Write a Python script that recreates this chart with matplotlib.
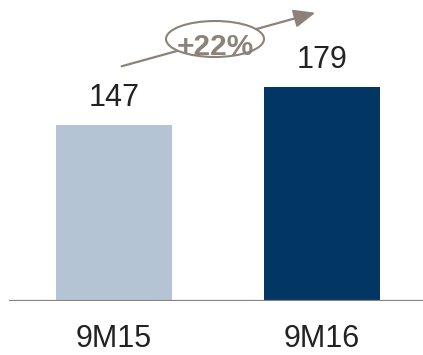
import matplotlib
matplotlib.use("Agg")
import matplotlib.pyplot as plt
from matplotlib.patches import Ellipse, FancyArrowPatch

categories = ["9M15", "9M16"]
values = [147, 179]
bar_colors = ["#b4c4d4", "#023763"]
growth_label = "+22%"

W, H, DPI = 423, 355, 100
fig = plt.figure(figsize=(W / DPI, H / DPI), dpi=DPI)
fig.patch.set_facecolor("white")

# axes: full width, baseline 54 px above the bottom edge
ax = fig.add_axes([0, 54 / H, 1, (H - 54) / H])
ax.set_facecolor("none")
xs = list(range(len(categories)))
ax.bar(xs, values, width=0.558, color=bar_colors, zorder=2)
ax.set_xlim(-114 / 208, (W - 114) / 208)
ax.set_ylim(0, (H - 54) / 1.197)
ax.axis("off")

grey = "#8c827a"
ax.axhline(0, xmin=10 / W, xmax=1, color=grey, lw=1.6, zorder=3)

font = "Liberation Sans"
text_color = "#222222"
for x, v, lab in zip(xs, values, categories):
    ax.annotate(str(v), xy=(x, v), xytext=(0, 13.7), textcoords="offset points",
                ha="center", va="baseline", fontsize=22, family=font,
                color=text_color)
    ax.annotate(lab, xy=(x, 0), xytext=(0, -33.1), textcoords="offset points",
                ha="center", va="baseline", fontsize=22, family=font,
                color=text_color)

# growth arrow with the ellipse badge (figure fraction coordinates)
def fpos(px, py):
    return (px / W, 1 - py / H)

arrow = FancyArrowPatch(fpos(119, 67), fpos(318, 12), transform=fig.transFigure,
                        arrowstyle="-|>,head_length=13,head_width=5.5",
                        color=grey, lw=1.6, mutation_scale=1)
fig.patches.append(arrow)
cx, cy = fpos(215, 39)
badge = Ellipse((cx, cy), 98 / W, 36 / H, transform=fig.transFigure,
                facecolor="white", edgecolor=grey, lw=1.5, zorder=5)
fig.patches.append(badge)
fig.text(215 / W, 1 - 55 / H, growth_label, ha="center", va="baseline",
         fontsize=21.5, fontweight="bold", family=font, color=grey, zorder=6)

fig.savefig("out.png", dpi=DPI)
